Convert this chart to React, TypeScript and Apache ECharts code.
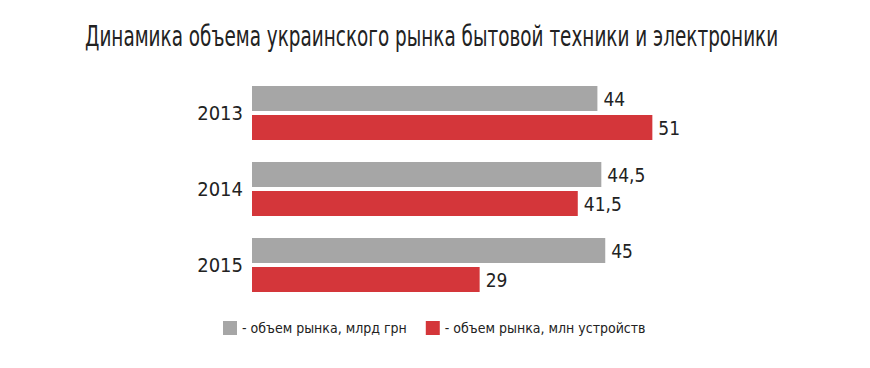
import React, { useEffect, useRef } from "react";
import * as echarts from "echarts";

const titleText = "Динамика объема украинского рынка бытовой техники и электроники";
const years = ["2013", "2014", "2015"];
const seriesNames = ["объем рынка, млрд грн", "объем рынка, млн устройств"];
const marketValueUAH = [44, 44.5, 45];
const marketUnits = [51, 41.5, 29];

const FONT = "'Liberation Sans Narrow', 'DejaVu Sans Condensed', 'Roboto Condensed', 'Open Sans', sans-serif";

export default function App() {
  const ref = useRef<HTMLDivElement>(null);
  useEffect(() => {
    if (!ref.current) return;
    const chart = echarts.init(ref.current, undefined, { renderer: "svg" });
    const fmt = (p: any) => String(p.value).replace(".", ",");

    const titleSize = 29;
    let titleScale = 0.75;
    try {
      const ctx = document.createElement("canvas").getContext("2d");
      if (ctx) {
        ctx.font = `${titleSize}px ${FONT}`;
        const w = ctx.measureText(titleText).width;
        if (w > 0) titleScale = 693 / w;
      }
    } catch (e) {}

    chart.setOption({
      animation: false,
      backgroundColor: "#ffffff",
      graphic: [
        {
          type: "text",
          x: 77,
          y: 28,
          scaleX: titleScale,
          style: {
            text: titleText,
            fontFamily: FONT,
            fontSize: titleSize,
            fill: "#222222",
            align: "left",
            verticalAlign: "middle",
          },
        },
      ],
      legend: {
        left: 210,
        top: 308,
        itemWidth: 14,
        itemHeight: 14,
        itemGap: 19,
        icon: "rect",
        formatter: (name: string) => "- " + name,
        textStyle: { fontFamily: FONT, fontSize: 14, color: "#222222" },
        data: seriesNames,
      },
      grid: { left: 244, top: 67, width: 471, height: 228, containLabel: false },
      xAxis: {
        type: "value",
        min: 0,
        max: 60,
        show: false,
      },
      yAxis: {
        type: "category",
        data: years,
        inverse: true,
        axisLine: { show: false },
        axisTick: { show: false },
        axisLabel: { fontFamily: FONT, fontSize: 20, color: "#222222", margin: 9 },
      },
      series: [
        {
          name: seriesNames[0],
          type: "bar",
          data: marketValueUAH,
          barWidth: 25,
          barGap: "16%",
          itemStyle: { color: "#a6a6a6" },
          label: { show: true, position: "right", distance: 6, formatter: fmt, fontFamily: FONT, fontSize: 19, color: "#222222" },
        },
        {
          name: seriesNames[1],
          type: "bar",
          data: marketUnits,
          barWidth: 25,
          itemStyle: { color: "#d4363a" },
          label: { show: true, position: "right", distance: 6, formatter: fmt, fontFamily: FONT, fontSize: 19, color: "#222222" },
        },
      ],
    });
    return () => chart.dispose();
  }, []);
  return <div ref={ref} style={{ width: 854, height: 352 }} />;
}
